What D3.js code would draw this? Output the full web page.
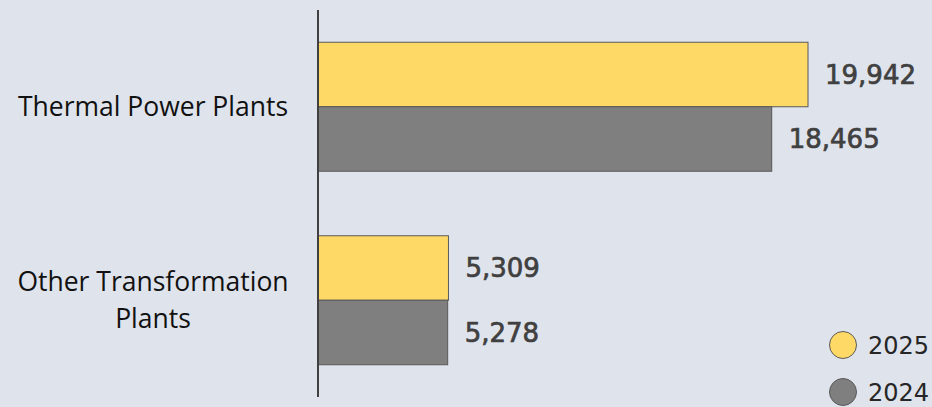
<!DOCTYPE html>
<html>
<head>
<meta charset="utf-8">
<script src="https://cdn.jsdelivr.net/npm/d3@7"></script>
<style>
  body { margin: 0; background: #dfe3ec; }
  svg { display: block; }
</style>
</head>
<body>
<svg id="chart"></svg>
<script>
// chart values
var categories = ["Thermal Power Plants", "Other Transformation Plants"]
var categoryLines = [["Thermal Power Plants"], ["Other Transformation", "Plants"]]
var seriesNames = ["2025", "2024"]
var values2025 = [19942, 5309]
var values2024 = [18465, 5278]
var seriesColors = ["#ffd966", "#7f7f7f"]

var screen = {width: 932, height: 407}
var svg = d3.select("#chart")
    .attr("width", screen.width)
    .attr("height", screen.height)

svg.append("rect")
    .attr("width", screen.width)
    .attr("height", screen.height)
    .attr("fill", "#dfe3ec")

var rows = []
categories.forEach(function(c, i)
{
    rows.push({cat: c, series: "2025", value: values2025[i]})
    rows.push({cat: c, series: "2024", value: values2024[i]})
})

var x0 = 318
var xscale = d3.scaleLinear()
    .domain([0, 19942])
    .range([x0, 808])

var yscale = d3.scaleBand()
    .domain(categories)
    .range([10, 397])
    .paddingInner(1/3)
    .paddingOuter(1/6)

var sub = d3.scaleBand()
    .domain(seriesNames)
    .range([0, yscale.bandwidth()])

var color = d3.scaleOrdinal().domain(seriesNames).range(seriesColors)

// bars
svg.selectAll("rect.bar")
    .data(rows)
    .enter()
    .append("rect")
    .attr("class", "bar")
    .attr("x", x0)
    .attr("y", function(d){return yscale(d.cat) + sub(d.series)})
    .attr("width", function(d){return xscale(d.value) - x0})
    .attr("height", sub.bandwidth())
    .attr("fill", function(d){return color(d.series)})
    .attr("stroke", "#595959")
    .attr("stroke-width", 1)

// value labels
svg.selectAll("text.val")
    .data(rows)
    .enter()
    .append("text")
    .attr("class", "val")
    .attr("x", function(d){return xscale(d.value) + 17})
    .attr("y", function(d){return yscale(d.cat) + sub(d.series) + sub.bandwidth() / 2})
    .attr("dy", "0.36em")
    .attr("font-family", "'DejaVu Sans', sans-serif")
    .attr("font-size", 26)
    .attr("fill", "#404040")
    .attr("stroke", "#404040")
    .attr("stroke-width", 0.7)
    .text(function(d){return d3.format(",")(d.value)})

// axis line
svg.append("line")
    .attr("x1", x0).attr("x2", x0)
    .attr("y1", 10).attr("y2", 397)
    .attr("stroke", "#404040")
    .attr("stroke-width", 2)

// category labels
var catText = svg.selectAll("text.cat")
    .data(categories)
    .enter()
    .append("text")
    .attr("class", "cat")
    .attr("text-anchor", "middle")
    .attr("font-family", "'Open Sans', sans-serif")
    .attr("font-size", 26.5)
    .attr("fill", "#111111")

catText.each(function(c, i)
{
    var lines = categoryLines[i]
    var cy = yscale(c) + yscale.bandwidth() / 2
    var lh = 37
    d3.select(this).selectAll("tspan")
        .data(lines)
        .enter()
        .append("tspan")
        .attr("x", 153)
        .attr("y", function(l, j){return cy + (j - (lines.length - 1) / 2) * lh})
        .attr("dy", "0.35em")
        .text(function(l){return l})
})

// legend
var legend = svg.selectAll("g.leg")
    .data(seriesNames)
    .enter()
    .append("g")
    .attr("class", "leg")
    .attr("transform", function(d, i){return "translate(843," + (345 + i * 47) + ")"})

legend.append("circle")
    .attr("r", 13.5)
    .attr("fill", function(d){return color(d)})
    .attr("stroke", "#595959")
    .attr("stroke-width", 1)

legend.append("text")
    .attr("x", 25)
    .attr("dy", "0.36em")
    .attr("font-family", "'DejaVu Sans', sans-serif")
    .attr("font-size", 24)
    .attr("fill", "#262626")
    .text(function(d){return d})
</script>
</body>
</html>
